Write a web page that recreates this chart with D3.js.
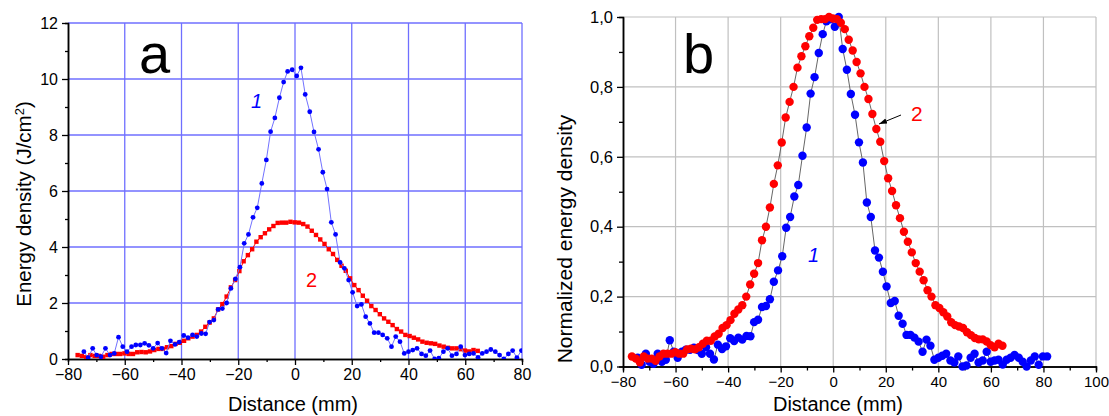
<!DOCTYPE html>
<html>
<head>
<meta charset="utf-8">
<script src="https://cdn.jsdelivr.net/npm/d3@7"></script>
<style>
  html, body { margin: 0; padding: 0; background: #ffffff; }
  svg { display: block; font-family: "Liberation Sans", Arial, sans-serif; }
</style>
</head>
<body>
<svg id="chart" width="1109" height="416"></svg>
<script>
// Beam profile 1 (blue): distance (mm) and energy density (J/cm²)
const dist1 = [-74.4,-72.9,-71.3,-69.9,-68.4,-66.8,-65.2,-63.7,-62.2,-60.7,-59.2,-57.6,-56.1,-54.5,-53.0,-51.5,-50.0,-48.4,-46.9,-45.4,
  -43.9,-42.3,-40.8,-39.2,-37.7,-36.1,-34.6,-33.0,-31.5,-30.1,-28.6,-27.1,-25.6,-24.1,-22.6,-21.0,-19.4,-17.9,-16.4,-14.8,
  -13.3,-11.7,-10.1,-8.6,-7.1,-5.5,-4.0,-2.6,-1.0,0.6,2.1,3.6,5.2,6.7,8.3,9.8,11.3,12.8,14.3,15.9,
  17.4,18.9,20.3,21.9,23.4,24.9,26.4,27.9,29.4,30.9,32.5,34.0,35.5,37.0,38.5,40.0,41.5,43.0,44.6,46.1,
  47.6,49.2,50.7,52.3,53.8,55.3,56.9,58.4,59.9,61.4,62.9,64.5,66.0,67.5,69.0,70.6,72.1,73.6,75.2,76.7,
  78.2,79.8,81.4];
const energy1 = [0.26,0.05,0.38,0.14,0.08,0.38,0.14,0.20,0.78,0.44,0.26,0.44,0.50,0.50,0.56,0.49,0.38,0.57,0.38,0.21,
  0.65,0.52,0.60,0.84,0.76,0.86,0.80,0.91,0.90,1.32,1.39,1.77,1.80,2.00,2.52,2.86,3.28,4.13,4.45,5.06,
  5.40,6.27,7.11,8.12,8.61,9.33,9.89,10.27,10.33,10.11,10.40,9.45,8.83,8.11,7.49,6.67,6.07,4.88,4.45,3.45,
  3.24,2.82,2.38,1.89,1.95,1.51,1.27,0.94,0.94,0.86,0.74,0.44,0.80,0.62,0.20,0.26,0.32,0.38,0.18,0.12,
  0.30,0.00,0.03,0.26,0.38,0.12,0.18,0.44,0.14,0.18,0.20,0.06,0.20,0.26,0.34,0.26,0.14,0.00,0.18,0.30,
  0.05,0.30,0.30];

// Beam profile 2 (red): distance (mm) and energy density (J/cm²)
const dist2 = [-76.6,-75.1,-73.6,-72.1,-70.6,-69.1,-67.6,-66.1,-64.6,-63.1,-61.6,-60.1,-58.6,-57.1,-55.6,-54.1,-52.6,-51.1,-49.6,-48.1,
  -46.6,-45.1,-43.6,-42.1,-40.6,-39.1,-37.6,-36.1,-34.6,-33.1,-31.6,-30.1,-28.6,-27.1,-25.6,-24.1,-22.6,-21.1,-19.6,-18.1,
  -16.6,-15.1,-13.6,-12.1,-10.6,-9.1,-7.6,-6.1,-4.6,-3.1,-1.6,-0.1,1.4,2.9,4.4,5.9,7.4,8.9,10.4,11.9,
  13.4,14.9,16.4,17.9,19.4,20.9,22.4,23.9,25.4,26.9,28.4,29.9,31.4,32.9,34.4,35.9,37.4,38.9,40.4,41.9,
  43.4,44.9,46.4,47.9,49.4,50.9,52.4,53.9,55.4,56.9,58.4,59.9,61.4,62.9,64.4];
const energy2 = [0.14,0.11,0.06,0.14,0.11,0.11,0.08,0.14,0.18,0.18,0.18,0.20,0.18,0.18,0.24,0.25,0.24,0.27,0.32,0.36,
  0.36,0.42,0.46,0.54,0.58,0.65,0.74,0.80,0.86,0.98,1.15,1.30,1.45,1.77,1.96,2.23,2.56,2.82,3.14,3.49,
  3.71,3.92,4.19,4.35,4.49,4.63,4.75,4.86,4.87,4.87,4.90,4.88,4.87,4.82,4.73,4.58,4.43,4.27,4.11,3.92,
  3.75,3.54,3.33,3.15,2.88,2.64,2.46,2.26,2.08,1.89,1.75,1.60,1.45,1.33,1.21,1.07,0.98,0.86,0.82,0.76,
  0.70,0.62,0.58,0.56,0.54,0.48,0.44,0.40,0.38,0.38,0.35,0.30,0.27,0.32,0.29];

// Axis ticks
const ticksXA = [-80,-60,-40,-20,0,20,40,60,80];
const ticksYA = [0,2,4,6,8,10,12];
const ticksXB = [-80,-60,-40,-20,0,20,40,60,80,100];
const ticksYB = [0,0.2,0.4,0.6,0.8,1.0];

const svg = d3.select("#chart");
const BLUE = "#0000ff", RED = "#ff0000";

const series1 = dist1.map((d, i) => ({x: d, y: energy1[i]}));
const series2 = dist2.map((d, i) => ({x: d, y: energy2[i]}));

function styleAxis(g, fs) {
  g.select(".domain").attr("stroke", "#000").attr("stroke-width", 1.5);
  g.selectAll(".tick line").attr("stroke", "#000").attr("stroke-width", 1.3);
  g.selectAll(".tick text").attr("fill", "#000").style("font-size", fs + "px")
    .style("font-family", '"Liberation Sans", Arial, sans-serif');
}

// ---------- Panel a: absolute energy density ----------
const xA = d3.scaleLinear().domain([-80, 80]).range([68, 522]);
const yA = d3.scaleLinear().domain([0, 12]).range([359, 23]);

const gA = svg.append("g");
gA.append("clipPath").attr("id", "clipA").append("rect")
  .attr("x", 68).attr("y", 23).attr("width", 454).attr("height", 336);

// grid (includes the top and right frame)
const gridA = gA.append("g").attr("stroke", "#6f6fff").attr("stroke-width", 1.3);
gridA.selectAll(".gv").data(ticksXA.slice(1)).join("line")
  .attr("x1", d => xA(d)).attr("x2", d => xA(d)).attr("y1", yA(0)).attr("y2", yA(12));
gridA.selectAll(".gh").data(ticksYA.slice(1)).join("line")
  .attr("x1", xA(-80)).attr("x2", xA(80)).attr("y1", d => yA(d)).attr("y2", d => yA(d));

// axes
const axisXA = d3.axisBottom(xA).tickValues(ticksXA).tickSizeInner(6).tickSizeOuter(0).tickPadding(4).tickFormat(d3.format("d"));
const axisYA = d3.axisLeft(yA).tickValues(ticksYA).tickSizeInner(6).tickSizeOuter(0).tickPadding(4).tickFormat(d3.format("d"));
const minorXA = d3.axisBottom(xA).tickValues(d3.range(-70, 80, 20)).tickSize(3).tickFormat("");
const minorYA = d3.axisLeft(yA).tickValues(d3.range(1, 12, 2)).tickSize(3).tickFormat("");
gA.append("g").attr("transform", `translate(0,${yA(0)})`).call(minorXA).call(g => styleAxis(g, 15));
gA.append("g").attr("transform", `translate(${xA(-80)},0)`).call(minorYA).call(g => styleAxis(g, 15));
gA.append("g").attr("transform", `translate(0,${yA(0)})`).call(axisXA).call(g => styleAxis(g, 16));
gA.append("g").attr("transform", `translate(${xA(-80)},0)`).call(axisYA).call(g => styleAxis(g, 16));

const plotA = gA.append("g").attr("clip-path", "url(#clipA)");
const lineA = d3.line().x(d => xA(d.x)).y(d => yA(d.y));
plotA.append("path").datum(series2).attr("d", lineA).attr("fill", "none").attr("stroke", RED).attr("stroke-width", 1);
plotA.selectAll(".sq").data(series2).join("rect")
  .attr("x", d => xA(d.x) - 2.2).attr("y", d => yA(d.y) - 2.2).attr("width", 4.4).attr("height", 4.4).attr("fill", RED);
plotA.append("path").datum(series1).attr("d", lineA).attr("fill", "none").attr("stroke", "#7272ff").attr("stroke-width", 1);
plotA.selectAll(".dot").data(series1).join("circle")
  .attr("cx", d => xA(d.x)).attr("cy", d => yA(d.y)).attr("r", 2.4).attr("fill", BLUE);

gA.append("text").attr("x", 139).attr("y", 73).style("font-size", "56px").text("a");
gA.append("text").attr("x", 251).attr("y", 108).style("font-size", "20px").style("font-style", "italic").attr("fill", BLUE).text("1");
gA.append("text").attr("x", 306).attr("y", 287).style("font-size", "20px").attr("fill", RED).text("2");

gA.append("text").attr("x", 293).attr("y", 411).attr("text-anchor", "middle").style("font-size", "20px").text("Distance (mm)");
const yTitleA = gA.append("text").attr("transform", "translate(31,204) rotate(-90)").attr("text-anchor", "middle").style("font-size", "20.5px");
yTitleA.append("tspan").text("Energy density (J/cm");
yTitleA.append("tspan").attr("dy", -7).style("font-size", "13px").text("2");
yTitleA.append("tspan").attr("dy", 7).text(")");

// ---------- Panel b: normalized energy density ----------
const xB = d3.scaleLinear().domain([-80, 100]).range([623, 1096]);
const yB = d3.scaleLinear().domain([0, 1]).range([366.5, 17]);
const gB = svg.append("g");

const gridB = gB.append("g").attr("stroke", "#c0c0c0").attr("stroke-width", 1.2);
gridB.selectAll(".gv").data(ticksXB.slice(1)).join("line")
  .attr("x1", d => xB(d)).attr("x2", d => xB(d)).attr("y1", yB(0)).attr("y2", yB(1));
gridB.selectAll(".gh").data(ticksYB.slice(1)).join("line")
  .attr("x1", xB(-80)).attr("x2", xB(100)).attr("y1", d => yB(d)).attr("y2", d => yB(d));

const commaFmt = d => d3.format(".1f")(d).replace(".", ",");
const axisXB = d3.axisBottom(xB).tickValues(ticksXB).tickSizeInner(6).tickSizeOuter(0).tickPadding(4).tickFormat(d3.format("d"));
const axisYB = d3.axisLeft(yB).tickValues(ticksYB).tickSizeInner(6).tickSizeOuter(0).tickPadding(4).tickFormat(commaFmt);
const minorXB = d3.axisBottom(xB).tickValues(d3.range(-70, 100, 20)).tickSize(4).tickFormat("");
const minorYB = d3.axisLeft(yB).tickValues([0.1,0.3,0.5,0.7,0.9]).tickSize(4).tickFormat("");
gB.append("g").attr("transform", `translate(0,${yB(0)})`).call(minorXB).call(g => styleAxis(g, 14));
gB.append("g").attr("transform", `translate(${xB(-80)},0)`).call(minorYB).call(g => styleAxis(g, 14));
gB.append("g").attr("transform", `translate(0,${yB(0)})`).call(axisXB).call(g => styleAxis(g, 15));
gB.append("g").attr("transform", `translate(${xB(-80)},0)`).call(axisYB).call(g => styleAxis(g, 16.5));

const max1 = d3.max(energy1), max2 = d3.max(energy2);
const norm1 = series1.map(d => ({x: d.x, y: d.y / max1}));
const norm2 = series2.map(d => ({x: d.x, y: d.y / max2}));
const lineB = d3.line().x(d => xB(d.x)).y(d => yB(d.y));
[[norm1, BLUE], [norm2, RED]].forEach(([data, col]) => {
  gB.append("path").datum(data).attr("d", lineB).attr("fill", "none").attr("stroke", "#555").attr("stroke-width", 0.9);
  gB.append("g").selectAll("circle").data(data).join("circle")
    .attr("cx", d => xB(d.x)).attr("cy", d => yB(d.y)).attr("r", 4.2).attr("fill", col);
});

gB.append("text").attr("x", 683).attr("y", 73).style("font-size", "56px").text("b");
gB.append("text").attr("x", 808).attr("y", 262).style("font-size", "20px").style("font-style", "italic").attr("fill", BLUE).text("1");
gB.append("text").attr("x", 911).attr("y", 121).style("font-size", "21px").attr("fill", RED).text("2");

// arrow pointing at curve 2
svg.append("defs").append("marker").attr("id", "arrowHead")
  .attr("viewBox", "0 0 10 10").attr("refX", 10).attr("refY", 5)
  .attr("markerWidth", 8).attr("markerHeight", 8).attr("orient", "auto")
  .append("path").attr("d", "M0,1.5 L10,5 L0,8.5 Z").attr("fill", "#000");
gB.append("line").attr("x1", 901).attr("y1", 115).attr("x2", 879).attr("y2", 124)
  .attr("stroke", "#000").attr("stroke-width", 1).attr("marker-end", "url(#arrowHead)");

gB.append("text").attr("x", 838).attr("y", 411).attr("text-anchor", "middle").style("font-size", "20px").text("Distance (mm)");
gB.append("text").attr("transform", "translate(572,239) rotate(-90)").attr("text-anchor", "middle").style("font-size", "21px").text("Normalized energy density");
</script>
</body>
</html>
